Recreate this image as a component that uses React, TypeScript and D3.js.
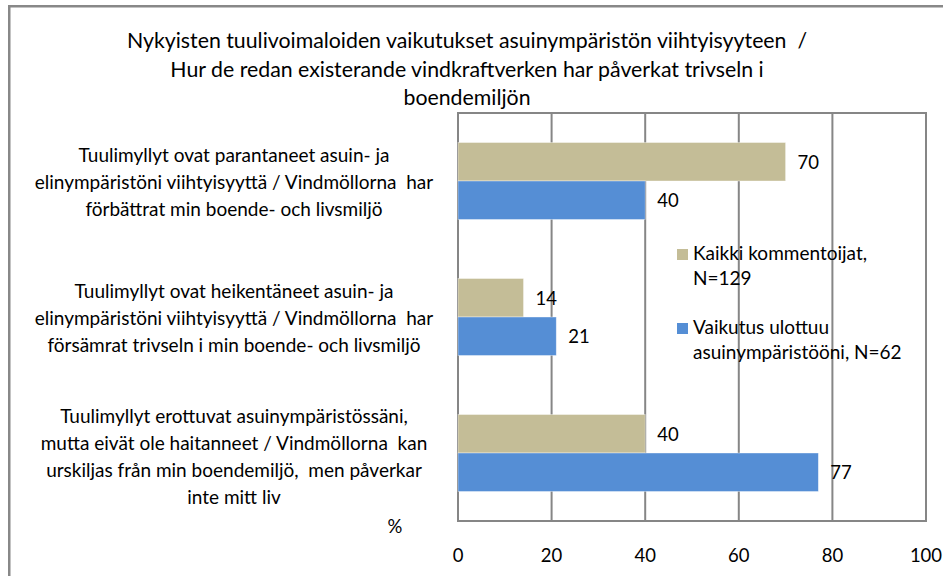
import React from "react";
import * as d3 from "d3";

const titleLines = [
  "Nykyisten tuulivoimaloiden vaikutukset asuinympäristön viihtyisyyteen  /",
  "Hur de redan existerande vindkraftverken har påverkat trivseln i",
  "boendemiljön",
];

const categories = ["parantaneet", "heikentaneet", "erottuvat"];

const categoryLabels: string[][] = [
  [
    "Tuulimyllyt ovat parantaneet asuin- ja",
    "elinympäristöni viihtyisyyttä / Vindmöllorna  har",
    "förbättrat min boende- och livsmiljö",
  ],
  [
    "Tuulimyllyt ovat heikentäneet asuin- ja",
    "elinympäristöni viihtyisyyttä / Vindmöllorna  har",
    "försämrat trivseln i min boende- och livsmiljö",
  ],
  [
    "Tuulimyllyt erottuvat asuinympäristössäni,",
    "mutta eivät ole haitanneet / Vindmöllorna  kan",
    "urskiljas från min boendemiljö,  men påverkar",
    "inte mitt liv",
  ],
];

const seriesNames = ["kaikki", "vaikutus"];
const seriesLegend: string[][] = [
  ["Kaikki kommentoijat,", "N=129"],
  ["Vaikutus ulottuu", "asuinympäristööni, N=62"],
];
const seriesColors = ["#C4BD97", "#558ED5"];

const kaikkiValues = [70, 14, 40];
const vaikutusValues = [40, 21, 77];

const xTicks = [0, 20, 40, 60, 80, 100];
const axisUnit = "%";

const W = 943;
const H = 576;
const FONT = "Lato, 'Open Sans', sans-serif";

export default function App() {
  const plot = { left: 458, right: 926, top: 113, bottom: 521 };
  const x = d3.scaleLinear().domain([0, 100]).range([plot.left, plot.right]);
  const y = d3
    .scaleBand<string>()
    .domain(categories)
    .range([plot.top, plot.bottom])
    .paddingInner(0.434)
    .paddingOuter(0.217);
  const ys = d3
    .scaleBand<string>()
    .domain(seriesNames)
    .range([0, y.bandwidth()]);
  const values = [kaikkiValues, vaikutusValues];
  const gridColor = "#868686";
  const lineH = 27;
  const pre = { whiteSpace: "pre" as const };

  return (
    <svg
      width={W}
      height={H}
      style={{ position: "fixed", left: 0, top: 0, background: "#fff" }}
      fontFamily={FONT}
    >
      <rect x={0} y={0} width={W} height={H} fill="#fff" />
      <rect
        x={9.25}
        y={6.25}
        width={W + 20}
        height={H + 20}
        fill="none"
        stroke="#888888"
        strokeWidth={2.5}
      />
      {/* title */}
      {titleLines.map((t, i) => (
        <text
          key={i}
          x={467}
          y={48 + i * 28.5}
          textAnchor="middle"
          fontSize={21.3}
          fill="#000"
          style={pre}
        >
          {t}
        </text>
      ))}
      {/* gridlines */}
      {xTicks.map((t) => (
        <line
          key={t}
          x1={x(t)}
          x2={x(t)}
          y1={plot.top}
          y2={plot.bottom}
          stroke={gridColor}
          strokeWidth={2}
        />
      ))}
      <line
        x1={plot.left - 1}
        x2={plot.right + 1}
        y1={plot.top}
        y2={plot.top}
        stroke={gridColor}
        strokeWidth={2}
      />
      {/* bars */}
      {categories.map((c, ci) =>
        seriesNames.map((s, si) => {
          const v = values[si][ci];
          const by = (y(c) as number) + (ys(s) as number);
          const bh = ys.bandwidth();
          return (
            <g key={c + s}>
              <rect
                x={x(0)}
                y={by}
                width={x(v) - x(0)}
                height={bh}
                fill={seriesColors[si]}
                stroke="#fff"
                strokeOpacity={0.5}
                strokeWidth={0.75}
              />
              <text
                x={x(v) + 12}
                y={by + bh / 2 + 7}
                fontSize={18.5}
                fill="#000"
              >
                {v}
              </text>
            </g>
          );
        })
      )}
      <line
        x1={plot.left - 1}
        x2={plot.right + 1}
        y1={plot.bottom}
        y2={plot.bottom}
        stroke={gridColor}
        strokeWidth={2}
      />
      {/* category labels */}
      {categories.map((c, ci) => {
        const lines = categoryLabels[ci];
        const cy = (y(c) as number) + y.bandwidth() / 2 + (lines.length > 3 ? 3 : 1);
        const start = cy - ((lines.length - 1) * lineH) / 2;
        return (
          <g key={c}>
            {lines.map((l, li) => (
              <text
                key={li}
                x={234}
                y={start + li * lineH + 7}
                textAnchor="middle"
                fontSize={19}
                fill="#000"
                style={pre}
              >
                {l}
              </text>
            ))}
          </g>
        );
      })}
      {/* x tick labels */}
      {xTicks.map((t) => (
        <text
          key={t}
          x={x(t)}
          y={562}
          textAnchor="middle"
          fontSize={18.5}
          fill="#000"
        >
          {t}
        </text>
      ))}
      <text x={395} y={533} textAnchor="middle" fontSize={18.5} fill="#000">
        {axisUnit}
      </text>
      {/* legend */}
      {seriesLegend.map((lines, si) => {
        const top = 249 + si * 74;
        return (
          <g key={si}>
            <rect x={677} y={top} width={11} height={11} fill={seriesColors[si]} />
            {lines.map((l, li) => (
              <text
                key={li}
                x={693}
                y={top + 11 + li * 25}
                fontSize={19}
                fill="#000"
              >
                {l}
              </text>
            ))}
          </g>
        );
      })}
    </svg>
  );
}
